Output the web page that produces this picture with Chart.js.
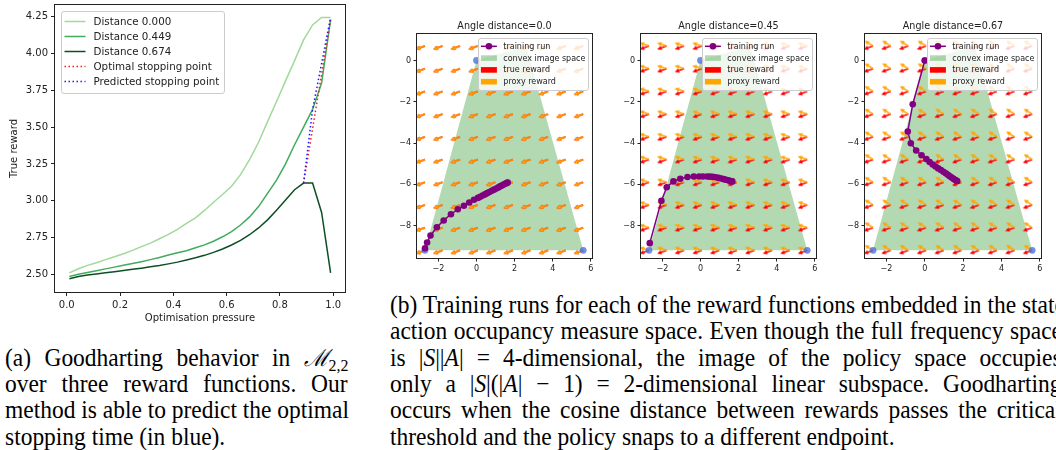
<!DOCTYPE html>
<html>
<head>
<meta charset="utf-8">
<script src="https://cdn.jsdelivr.net/npm/chart.js@4.4.0/dist/chart.umd.min.js"></script>
<style>
  html, body { margin: 0; padding: 0; background: #fff; }
  body { width: 1056px; height: 450px; position: relative; overflow: hidden; }
  canvas { position: absolute; top: 0; }
  .ln { position: absolute; height: 26px; line-height: 26px; white-space: nowrap;
        font-family: "Liberation Serif", "Times New Roman", serif; font-size: 25.5px; color: #000;
        transform: scaleX(0.92); transform-origin: 0 50%; }
  .ln i { font-style: italic; }
  .ln sub { font-size: 68%; vertical-align: -0.28em; line-height: 0; }
  .cal { font-family: "DejaVu Serif", "Liberation Serif", serif; font-style: italic; font-size: 92%; }
</style>
</head>
<body>
<canvas id="goodhart" width="352" height="330" style="left:0px;width:352px;height:330px"></canvas>
<canvas id="panel0" width="215" height="285" style="left:390px;width:215px;height:285px"></canvas>
<canvas id="panel1" width="215" height="285" style="left:614px;width:215px;height:285px"></canvas>
<canvas id="panel2" width="216" height="285" style="left:838px;width:216px;height:285px"></canvas>

<div class="ln" style="left:5px;top:345px"><span class="j" data-w="343">(a) Goodharting behavior in <span class="cal">ℳ</span><sub>2,2</sub></span></div>
<div class="ln" style="left:5px;top:371px"><span class="j" data-w="343">over three reward functions. Our</span></div>
<div class="ln" style="left:5px;top:397px"><span class="j" data-w="343">method is able to predict the optimal</span></div>
<div class="ln" style="left:5px;top:424px"><span>stopping time (in blue).</span></div>

<div class="ln" style="left:390px;top:292px"><span class="j" data-w="672">(b) Training runs for each of the reward functions embedded in the state-</span></div>
<div class="ln" style="left:390px;top:318px"><span class="j" data-w="672">action occupancy measure space. Even though the full frequency space</span></div>
<div class="ln" style="left:390px;top:345px"><span class="j" data-w="672">is |<i>S</i>||<i>A</i>| = 4-dimensional, the image of the policy space occupies</span></div>
<div class="ln" style="left:390px;top:371px"><span class="j" data-w="672">only a |<i>S</i>|(|<i>A</i>| − 1) = 2-dimensional linear subspace. Goodharting</span></div>
<div class="ln" style="left:390px;top:397px"><span class="j" data-w="672">occurs when the cosine distance between rewards passes the critical</span></div>
<div class="ln" style="left:390px;top:424px"><span>threshold and the policy snaps to a different endpoint.</span></div>

<script>
// ---------- Goodharting curves: true reward vs optimisation pressure ----------
const pressure = [0.01, 0.0438, 0.0776, 0.1114, 0.1452, 0.1790, 0.2128, 0.2466, 0.2803, 0.3141,
                  0.3479, 0.3817, 0.4155, 0.4493, 0.4831, 0.5169, 0.5507, 0.5845, 0.6183, 0.6521,
                  0.6859, 0.7197, 0.7534, 0.7872, 0.8210, 0.8548, 0.8886, 0.9224, 0.9562, 0.99];
const rewardD000 = [2.510, 2.538, 2.561, 2.579, 2.600, 2.620, 2.640, 2.663, 2.688, 2.712,
                    2.742, 2.771, 2.805, 2.846, 2.884, 2.934, 2.990, 3.042, 3.098, 3.177,
                    3.279, 3.397, 3.537, 3.674, 3.814, 3.952, 4.092, 4.194, 4.245, 4.245];
const rewardD449 = [2.485, 2.500, 2.513, 2.525, 2.537, 2.549, 2.561, 2.573, 2.586, 2.600,
                    2.615, 2.631, 2.646, 2.660, 2.680, 2.700, 2.725, 2.755, 2.790, 2.835,
                    2.890, 2.960, 3.050, 3.140, 3.250, 3.380, 3.500, 3.620, 3.800, 4.230];
const rewardD674 = [2.470, 2.485, 2.495, 2.503, 2.511, 2.518, 2.526, 2.534, 2.542, 2.551,
                    2.560, 2.571, 2.583, 2.597, 2.612, 2.629, 2.649, 2.672, 2.699, 2.731,
                    2.769, 2.815, 2.870, 2.935, 3.005, 3.075, 3.120, 3.120, 2.920, 2.510];
const optimalStopX = [0.8886, 0.99, 0.99];
const optimalStopY = [3.120, 4.230, 4.245];
const predictedStopX = [0.8886, 0.9224, 0.99];
const predictedStopY = [3.120, 3.620, 4.245];
const curveLabels = ['Distance 0.000', 'Distance 0.449', 'Distance 0.674'];
const pressureTicks = [0.0, 0.2, 0.4, 0.6, 0.8, 1.0];
const rewardTicks = [2.50, 2.75, 3.00, 3.25, 3.50, 3.75, 4.00, 4.25];

// ---------- Occupancy-measure panels ----------
const angleDistances = ['0.0', '0.45', '0.67'];
const imageSpaceX = [0, 2.6, 5.6, -2.7, 0];
const imageSpaceY = [0, 0.7, -9.2, -9.2, 0];
const vertexX = [0, -2.7, 5.6];
const vertexY = [0, -9.2, -9.2];
const fieldX = [-2.7, -1.78, -0.86, 0.07, 0.99, 1.91, 2.83, 3.76, 4.68, 5.6];
const fieldY = [-9.2, -8.1, -7.0, -5.9, -4.8, -3.7, -2.6, -1.5, -0.4, 0.7];
const trueRewardAngle = 160;            // screen bearing of the true reward arrows (deg, clockwise)
const proxyRewardAngles = [160, 198, 212];
const run0X = [-2.70, -2.59, -2.41, -2.08, -1.72, -1.34, -0.98, -0.66, -0.38, -0.13,
               0.08, 0.20, 0.32, 0.44, 0.56, 0.68, 0.80, 0.92, 1.04, 1.15, 1.26, 1.36, 1.45, 1.53, 1.60, 1.64];
const run0Y = [-9.10, -8.82, -8.48, -8.08, -7.75, -7.45, -7.21, -7.04, -6.88, -6.75,
               -6.66, -6.60, -6.54, -6.49, -6.43, -6.37, -6.31, -6.26, -6.20, -6.15, -6.09, -6.05, -6.00, -5.96, -5.93, -5.91];
const run1X = [-2.66, -2.05, -1.77, -1.42, -1.06, -0.68, -0.35, -0.07, 0.13, 0.35, 0.50,
               0.65, 0.80, 0.95, 1.09, 1.22, 1.34, 1.45, 1.54, 1.62, 1.67];
const run1Y = [-8.85, -6.80, -6.14, -5.86, -5.73, -5.65, -5.62, -5.62, -5.62, -5.62, -5.63,
               -5.64, -5.66, -5.69, -5.72, -5.75, -5.78, -5.81, -5.83, -5.85, -5.86];
const run2X = [0.00, -0.63, -0.89, -0.73, -0.45, -0.17, 0.08, 0.25, 0.41, 0.56, 0.70,
               0.84, 0.97, 1.09, 1.20, 1.30, 1.40, 1.49, 1.57, 1.64, 1.69];
const run2Y = [0.00, -2.12, -3.44, -4.01, -4.36, -4.59, -4.78, -4.92, -5.04, -5.14, -5.23,
               -5.31, -5.39, -5.47, -5.54, -5.61, -5.67, -5.73, -5.78, -5.82, -5.84];
const runsX = [run0X, run1X, run2X];
const runsY = [run0Y, run1Y, run2Y];
const panelXTicks = [-2, 0, 2, 4, 6];
const panelYTicks = [-8, -6, -4, -2, 0];

// ---------- shared setup ----------
const FONT = '"DejaVu Sans", sans-serif';
const INK = '#222';
Chart.defaults.font.family = FONT;
Chart.defaults.color = INK;
Chart.defaults.animation = false;
Chart.defaults.events = [];
Chart.defaults.plugins.legend.display = false;
Chart.defaults.plugins.tooltip.enabled = false;

const pts = (xs, ys) => xs.map((x, i) => ({ x, y: ys[i] }));
const minusFmt = v => (v < 0 ? '\u2212' + Math.abs(v) : String(v));

// axes box, panel title and boxed legend
const axesDecor = {
  id: 'axesDecor',
  afterDatasetsDraw(chart) {
    const { ctx, chartArea: a } = chart;
    ctx.save();
    ctx.strokeStyle = INK;
    ctx.lineWidth = 1;
    ctx.strokeRect(Math.round(a.left) - 0.5, Math.round(a.top) - 0.5,
                   Math.round(a.right - a.left) + 1, Math.round(a.bottom - a.top) + 1);
    ctx.restore();
  },
  afterDraw(chart, args, opts) {
    const { ctx, chartArea: a } = chart;
    if (opts.title) {
      ctx.save();
      ctx.font = opts.titleSize + 'px ' + FONT;
      ctx.fillStyle = INK;
      ctx.textAlign = 'center';
      ctx.textBaseline = 'middle';
      ctx.fillText(opts.title, (a.left + a.right) / 2, a.top - opts.titleGap);
      ctx.restore();
    }
    const lg = opts.legend;
    if (!lg) return;
    const items = chart.data.datasets.filter(d => d.legendKind).sort((p, q) => p.legendRank - q.legendRank);
    ctx.save();
    ctx.font = lg.fontSize + 'px ' + FONT;
    let tw = 0;
    items.forEach(d => { tw = Math.max(tw, ctx.measureText(d.label).width); });
    const w = lg.padX * 2 + lg.handleLen + lg.gap + tw;
    const h = lg.padY * 2 + lg.rowH * items.length;
    const x0 = lg.side === 'left' ? a.left + lg.inset : a.right - lg.inset - w;
    const y0 = a.top + lg.inset;
    ctx.beginPath();
    ctx.roundRect(Math.round(x0) + 0.5, Math.round(y0) + 0.5, Math.round(w), Math.round(h), 2.5);
    ctx.fillStyle = 'rgba(255,255,255,0.8)';
    ctx.fill();
    ctx.strokeStyle = '#cccccc';
    ctx.lineWidth = 1;
    ctx.stroke();
    items.forEach((d, i) => {
      const cy = y0 + lg.padY + lg.rowH * (i + 0.5);
      const hx = x0 + lg.padX;
      ctx.save();
      if (d.legendKind === 'line' || d.legendKind === 'lineMarker') {
        ctx.strokeStyle = d.borderColor;
        ctx.lineWidth = d.borderWidth;
        ctx.setLineDash(d.borderDash || []);
        ctx.beginPath(); ctx.moveTo(hx, cy); ctx.lineTo(hx + lg.handleLen, cy); ctx.stroke();
        if (d.legendKind === 'lineMarker') {
          ctx.fillStyle = d.pointBackgroundColor;
          ctx.beginPath(); ctx.arc(hx + lg.handleLen / 2, cy, d.pointRadius, 0, Math.PI * 2); ctx.fill();
        }
      } else if (d.legendKind === 'patch') {
        const ph = lg.fontSize * 0.7;
        ctx.fillStyle = d.legendColor || d.backgroundColor;
        ctx.fillRect(hx, cy - ph / 2, lg.handleLen, ph);
      }
      ctx.restore();
      ctx.fillStyle = INK;
      ctx.textBaseline = 'middle';
      ctx.textAlign = 'left';
      ctx.fillText(d.label, hx + lg.handleLen + lg.gap, cy + 0.5);
    });
    ctx.restore();
  }
};

// fixes the plotting rectangle inside a canvas
function fixedAxes(yWidth, xHeight) {
  return {
    y: (scale) => { scale.width = yWidth; scale.paddingTop = scale.paddingBottom = 0; scale.paddingLeft = scale.paddingRight = 0; },
    x: (scale) => { scale.height = xHeight; scale.paddingLeft = scale.paddingRight = 0; scale.paddingTop = scale.paddingBottom = 0; }
  };
}
const tickSetter = list => (scale) => { scale.ticks = list.map(v => ({ value: v })); };

// ---------- left chart ----------
(function () {
  const fit = fixedAxes(55, 38);
  const colors = ['#a1d99b', '#41ab5d', '#0d4f25'];
  const series = [rewardD000, rewardD449, rewardD674];
  const datasets = series.map((ys, i) => ({
    label: curveLabels[i], data: pts(pressure, ys), showLine: true,
    borderColor: colors[i], borderWidth: 1.5, pointRadius: 0,
    order: 10 - i, legendKind: 'line', legendRank: i
  }));
  datasets.push({
    label: 'Optimal stopping point', data: pts(optimalStopX, optimalStopY), showLine: true,
    borderColor: '#ff1a1a', borderWidth: 1.5, borderDash: [1.5, 2.5], pointRadius: 0,
    order: 2, legendKind: 'line', legendRank: 3
  });
  datasets.push({
    label: 'Predicted stopping point', data: pts(predictedStopX, predictedStopY), showLine: true,
    borderColor: '#1a1aff', borderWidth: 1.5, borderDash: [1.5, 2.5], pointRadius: 0,
    order: 1, legendKind: 'line', legendRank: 4
  });
  new Chart(document.getElementById('goodhart'), {
    type: 'scatter',
    data: { datasets },
    options: {
      responsive: false,
      layout: { padding: { top: 5, right: 7, left: 0, bottom: 0 } },
      scales: {
        x: {
          type: 'linear', min: -0.044, max: 1.044,
          afterBuildTicks: tickSetter(pressureTicks), afterFit: fit.x,
          grid: { drawOnChartArea: false, drawTicks: true, tickLength: 4, color: INK },
          border: { display: false },
          ticks: { font: { size: 10 }, padding: 3, autoSkip: false, maxRotation: 0, callback: v => v.toFixed(1) },
          title: { display: true, text: 'Optimisation pressure', font: { size: 10 }, padding: { top: 0, bottom: 6 } }
        },
        y: {
          type: 'linear', min: 2.38, max: 4.3295,
          afterBuildTicks: tickSetter(rewardTicks), afterFit: fit.y,
          grid: { drawOnChartArea: false, drawTicks: true, tickLength: 4, color: INK },
          border: { display: false },
          ticks: { font: { size: 10 }, padding: 3, autoSkip: false, callback: v => v.toFixed(2) },
          title: { display: true, text: 'True reward', font: { size: 10 }, padding: { top: 8, bottom: 0 } }
        }
      },
      plugins: {
        axesDecor: {
          legend: { side: 'left', inset: 5.5, fontSize: 10.3, padX: 4, padY: 3.5, rowH: 15, handleLen: 21, gap: 8 }
        }
      }
    },
    plugins: [axesDecor]
  });
})();

// ---------- arrow glyphs for the reward fields ----------
function arrowGlyph(color) {
  const s = 26, c = s / 2, len = 10, headLen = 4.5, headHalf = 2.2, shaft = 1.3;
  const cv = document.createElement('canvas');
  cv.width = s; cv.height = s;
  const g = cv.getContext('2d');
  g.fillStyle = color;
  g.beginPath();
  g.moveTo(c, c - shaft / 2);
  g.lineTo(c + len - headLen, c - shaft / 2);
  g.lineTo(c + len - headLen, c - headHalf);
  g.lineTo(c + len, c);
  g.lineTo(c + len - headLen, c + headHalf);
  g.lineTo(c + len - headLen, c + shaft / 2);
  g.lineTo(c, c + shaft / 2);
  g.closePath();
  g.fill();
  return cv;
}
const redArrow = arrowGlyph('#ff0000');
const orangeArrow = arrowGlyph('#ffa500');
const fieldPoints = fieldY.flatMap(y => fieldX.map(x => ({ x, y })));

// ---------- three occupancy panels ----------
angleDistances.forEach((dist, k) => {
  const fit = fixedAxes(27, 27);
  const datasets = [
    { label: 'training run', data: pts(runsX[k], runsY[k]), showLine: true,
      borderColor: '#800080', borderWidth: 1.5, pointRadius: 3.3, pointBorderWidth: 0,
      pointBackgroundColor: '#800080', legendKind: 'lineMarker', legendRank: 0 },
    { label: 'vertices', data: pts(vertexX, vertexY), pointRadius: 3.4, pointBorderWidth: 0,
      pointBackgroundColor: 'rgba(65,105,225,0.75)' },
    { label: 'proxy reward', data: fieldPoints, pointStyle: orangeArrow, pointRadius: 12,
      pointRotation: proxyRewardAngles[k], clip: 0, legendKind: 'patch', legendColor: '#ffa500', legendRank: 3 },
    { label: 'true reward', data: fieldPoints, pointStyle: redArrow, pointRadius: 12,
      pointRotation: trueRewardAngle, clip: 0, legendKind: 'patch', legendColor: '#ff0000', legendRank: 2 },
    { label: 'convex image space', data: pts(imageSpaceX, imageSpaceY), showLine: true, fill: 'shape',
      backgroundColor: 'rgba(0,128,0,0.3)', borderColor: 'rgba(0,0,0,0)', borderWidth: 0, pointRadius: 0,
      legendKind: 'patch', legendColor: 'rgba(0,128,0,0.3)', legendRank: 1 }
  ];
  new Chart(document.getElementById('panel' + k), {
    type: 'scatter',
    data: { datasets },
    options: {
      responsive: false,
      layout: { padding: { top: 34, right: 2, left: 0, bottom: 0 } },
      scales: {
        x: {
          type: 'linear', min: -3.12, max: 6.06,
          afterBuildTicks: tickSetter(panelXTicks), afterFit: fit.x,
          grid: { drawOnChartArea: false, drawTicks: true, tickLength: 3.5, color: INK },
          border: { display: false },
          ticks: { font: { size: 8 }, padding: 2.5, autoSkip: false, maxRotation: 0, callback: minusFmt }
        },
        y: {
          type: 'linear', min: -9.57, max: 1.28,
          afterBuildTicks: tickSetter(panelYTicks), afterFit: fit.y,
          grid: { drawOnChartArea: false, drawTicks: true, tickLength: 3.5, color: INK },
          border: { display: false },
          ticks: { font: { size: 8 }, padding: 2.5, autoSkip: false, callback: minusFmt }
        }
      },
      plugins: {
        axesDecor: {
          title: 'Angle distance=' + dist, titleSize: 9.6, titleGap: 8,
          legend: { side: 'right', inset: 4, fontSize: 8, padX: 2.6, padY: 2.4, rowH: 11.8, handleLen: 16, gap: 6.4 }
        }
      }
    },
    plugins: [axesDecor]
  });
});

// ---------- justify caption lines (widths are in page pixels, lines are scaled horizontally) ----------
const CAPTION_SCALE = 0.92;
document.querySelectorAll('.j').forEach(el => {
  const target = parseFloat(el.dataset.w) / CAPTION_SCALE;
  const natural = el.offsetWidth;
  const gaps = (el.textContent.match(/ /g) || []).length;
  if (gaps && target > natural) el.style.wordSpacing = ((target - natural) / gaps) + 'px';
});
</script>
</body>
</html>
